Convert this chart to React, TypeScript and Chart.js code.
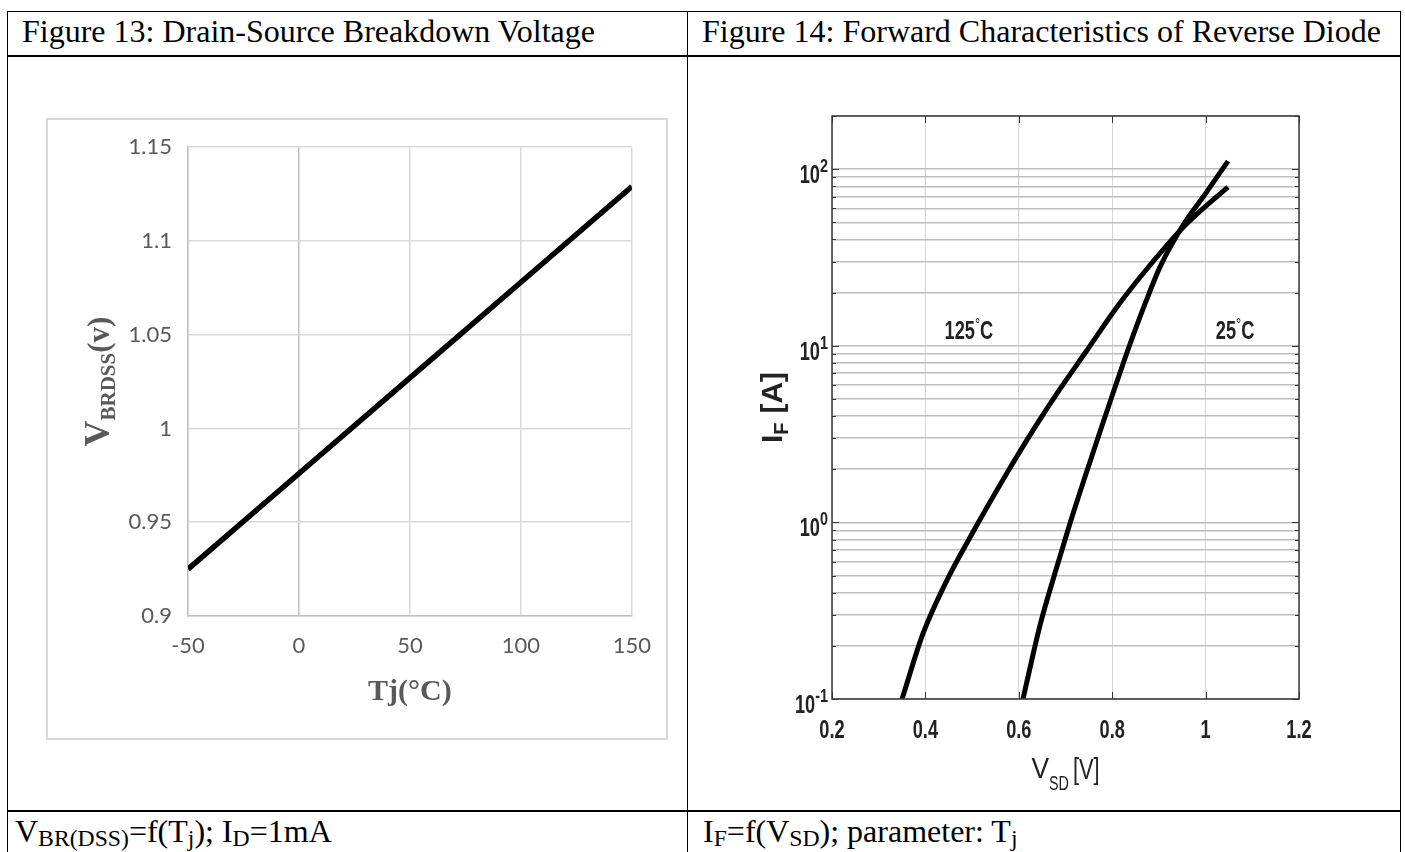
import React, { useEffect, useRef } from "react";
import { Chart, registerables } from "chart.js";

Chart.register(...registerables);

// ---- Figure 13: drain-source breakdown voltage vs junction temperature ----
const tjValues = [-50, 0, 50, 100, 150];
const vbrValues = [0.925, 0.976, 1.027, 1.078, 1.129];
const tjTicks = [-50, 0, 50, 100, 150];
const tjTickLabels = ["-50", "0", "50", "100", "150"];
const vbrTicks = [0.9, 0.95, 1, 1.05, 1.1, 1.15];
const vbrTickLabels = ["0.9", "0.95", "1", "1.05", "1.1", "1.15"];

// ---- Figure 14: reverse diode forward characteristics ----
const vsd25 = [0.609, 0.645, 0.678, 0.71, 0.742, 0.774, 0.806, 0.838, 0.87, 0.902, 0.952, 0.999, 1.048];
const if25 = [0.1, 0.259, 0.522, 0.995, 1.82, 3.27, 5.82, 10.2, 17.2, 27.8, 48.3, 72.2, 111];
const vsd125 = [0.35, 0.395, 0.446, 0.496, 0.575, 0.63, 0.688, 0.746, 0.806, 0.86, 0.924, 0.96, 1.003, 1.048];
const if125 = [0.1, 0.235, 0.47, 0.827, 1.91, 3.31, 5.68, 9.43, 16.0, 24.5, 38.9, 49.2, 62.6, 79.1];
const vsdTicks = [0.2, 0.4, 0.6, 0.8, 1, 1.2];
const vsdTickLabels = ["0.2", "0.4", "0.6", "0.8", "1", "1.2"];
const ifDecades = [0.1, 1, 10, 100];
const ifDecadeExponents = ["-1", "0", "1", "2"];
const ifGridLines = [
  0.1, 0.2, 0.3, 0.4, 0.5, 0.6, 0.7, 0.8, 0.9,
  1, 2, 3, 4, 5, 6, 7, 8, 9,
  10, 20, 30, 40, 50, 60, 70, 80, 90,
  100, 200,
];
const curveLabels = ["125", "25"];
const curveLabelV = [0.493, 1.063];
const curveLabelI = [12.3, 12.3];

const SERIF = '"Liberation Serif", "Times New Roman", serif';
const SANS = '"Liberation Sans", Arial, sans-serif';

// draw text squeezed horizontally by sx, returns the drawn width
function drawText(
  ctx: CanvasRenderingContext2D,
  text: string,
  x: number,
  y: number,
  font: string,
  align: "left" | "center" | "right",
  sx: number
): number {
  ctx.save();
  ctx.font = font;
  const w = ctx.measureText(text).width * sx;
  const left = align === "center" ? x - w / 2 : align === "right" ? x - w : x;
  ctx.translate(left, y);
  ctx.scale(sx, 1);
  ctx.textAlign = "left";
  ctx.textBaseline = "alphabetic";
  ctx.fillText(text, 0, 0);
  ctx.restore();
  return w;
}

type Part = { t: string; font: string; dy: number; sx: number; gap?: number };

function partsWidth(ctx: CanvasRenderingContext2D, parts: Part[]): number {
  let w = 0;
  for (const p of parts) {
    ctx.font = p.font;
    w += ctx.measureText(p.t).width * p.sx + (p.gap || 0);
  }
  return w;
}

function drawParts(ctx: CanvasRenderingContext2D, parts: Part[], x: number, y: number) {
  let cx = x;
  for (const p of parts) {
    cx += drawText(ctx, p.t, cx, y + p.dy, p.font, "left", p.sx) + (p.gap || 0);
  }
}

const fig13Decor = {
  id: "fig13Decor",
  beforeDraw(chart: any) {
    const ctx = chart.ctx as CanvasRenderingContext2D;
    ctx.save();
    ctx.strokeStyle = "#d9d9d9";
    ctx.lineWidth = 2;
    ctx.strokeRect(1, 1, chart.width - 2, chart.height - 2);
    ctx.restore();
  },
  afterDraw(chart: any) {
    const ctx = chart.ctx as CanvasRenderingContext2D;
    const a = chart.chartArea;
    ctx.save();
    ctx.fillStyle = "#595959";
    // x-axis title
    drawText(ctx, "Tj(°C)", (a.left + a.right) / 2, a.bottom + 84, `bold 30px ${SERIF}`, "center", 1);
    // y-axis title, rotated
    const parts: Part[] = [
      { t: "V", font: `bold 36px ${SERIF}`, dy: 0, sx: 1 },
      { t: "BRDSS", font: `bold 21px ${SERIF}`, dy: 6, sx: 1 },
      { t: "(v)", font: `bold 31px ${SERIF}`, dy: 0, sx: 1 },
    ];
    const w = partsWidth(ctx, parts);
    ctx.translate(63, (a.top + a.bottom) / 2);
    ctx.rotate(-Math.PI / 2);
    drawParts(ctx, parts, -w / 2, 0);
    ctx.restore();
  },
};

const fig14Decor = {
  id: "fig14Decor",
  afterDraw(chart: any) {
    const ctx = chart.ctx as CanvasRenderingContext2D;
    const a = chart.chartArea;
    const xs = chart.scales.x;
    const ys = chart.scales.y;
    ctx.save();

    // inward tick marks on all four sides
    ctx.strokeStyle = "#333";
    ctx.lineWidth = 1;
    ctx.beginPath();
    for (const v of ifGridLines) {
      const py = Math.round(ys.getPixelForValue(v)) + 0.5;
      const len = ifDecades.includes(v) ? 7 : 4;
      ctx.moveTo(a.left, py);
      ctx.lineTo(a.left + len, py);
      ctx.moveTo(a.right, py);
      ctx.lineTo(a.right - len, py);
    }
    for (const v of vsdTicks) {
      const px = Math.round(xs.getPixelForValue(v)) + 0.5;
      ctx.moveTo(px, a.bottom);
      ctx.lineTo(px, a.bottom - 7);
      ctx.moveTo(px, a.top);
      ctx.lineTo(px, a.top + 7);
    }
    ctx.stroke();

    // plot box
    ctx.strokeStyle = "#3a3a3a";
    ctx.lineWidth = 1.5;
    ctx.strokeRect(a.left, a.top, a.right - a.left, a.bottom - a.top);

    ctx.fillStyle = "#222";
    // x tick labels
    vsdTicks.forEach((v, i) => {
      drawText(ctx, vsdTickLabels[i], xs.getPixelForValue(v), a.bottom + 39, `bold 26px ${SANS}`, "center", 0.7);
    });
    // y tick labels: 10 with superscript exponent
    ifDecades.forEach((v, i) => {
      const py = ys.getPixelForValue(v);
      const ew = drawText(ctx, ifDecadeExponents[i], a.left - 4, py + 3, `bold 18px ${SANS}`, "right", 0.8);
      drawText(ctx, "10", a.left - 4 - ew, py + 14, `bold 26px ${SANS}`, "right", 0.7);
    });

    // curve temperature labels
    curveLabels.forEach((t, i) => {
      const cx = xs.getPixelForValue(curveLabelV[i]);
      const cy = ys.getPixelForValue(curveLabelI[i]);
      const parts: Part[] = [
        { t, font: `bold 26px ${SANS}`, dy: 0, sx: 0.7 },
        { t: "°", font: `16px ${SANS}`, dy: -9, sx: 0.8 },
        { t: "C", font: `bold 26px ${SANS}`, dy: 0, sx: 0.7 },
      ];
      const w = partsWidth(ctx, parts);
      drawParts(ctx, parts, cx - w / 2, cy + 9);
    });

    // x-axis title
    const xParts: Part[] = [
      { t: "V", font: `30px ${SANS}`, dy: 0, sx: 0.88 },
      { t: "SD", font: `20px ${SANS}`, dy: 12, sx: 0.72, gap: 4 },
      { t: "[V]", font: `29px ${SANS}`, dy: 1, sx: 0.75 },
    ];
    const xw = partsWidth(ctx, xParts);
    drawParts(ctx, xParts, (a.left + a.right) / 2 - xw / 2, a.bottom + 79);

    // y-axis title, rotated
    const yParts: Part[] = [
      { t: "I", font: `bold 30px ${SANS}`, dy: 0, sx: 1 },
      { t: "F", font: `bold 20px ${SANS}`, dy: 6, sx: 1, gap: 9 },
      { t: "[A]", font: `bold 30px ${SANS}`, dy: 0, sx: 1 },
    ];
    const yw = partsWidth(ctx, yParts);
    ctx.translate(82, (a.top + a.bottom) / 2);
    ctx.rotate(-Math.PI / 2);
    drawParts(ctx, yParts, -yw / 2, 0);
    ctx.restore();
  },
};

const lineBlack = {
  borderColor: "#000",
  borderWidth: 5,
  pointRadius: 0,
  fill: false,
  clip: 0,
};

export default function App() {
  const ref13 = useRef<HTMLCanvasElement>(null);
  const ref14 = useRef<HTMLCanvasElement>(null);

  useEffect(() => {
    const ch13 = new Chart(ref13.current as HTMLCanvasElement, {
      type: "line",
      data: {
        datasets: [
          {
            ...lineBlack,
            borderWidth: 5.5,
            data: tjValues.map((t, i) => ({ x: t, y: vbrValues[i] })),
            tension: 0,
          } as any,
        ],
      },
      options: {
        responsive: false,
        animation: false,
        devicePixelRatio: 1,
        layout: { padding: { top: 29, right: 33, left: 0, bottom: 0 } },
        plugins: { legend: { display: false }, tooltip: { enabled: false } },
        scales: {
          x: {
            type: "linear",
            min: -50,
            max: 150,
            afterBuildTicks: (s: any) => {
              s.ticks = tjTicks.map((v) => ({ value: v }));
            },
            ticks: {
              callback: (_v: any, i: number) => tjTickLabels[i],
              color: "#595959",
              font: { family: "Lato", size: 22 },
              padding: 17,
              maxRotation: 0,
            },
            grid: {
              color: (c: any) => (c.tick && c.tick.value === 0 ? "#bfbfbf" : "#d9d9d9"),
              lineWidth: 1.5,
              drawTicks: false,
            },
            border: { color: "#bfbfbf", width: 1.5 },
            afterFit: (s: any) => {
              s.height = 124;
            },
          },
          y: {
            type: "linear",
            min: 0.9,
            max: 1.15,
            afterBuildTicks: (s: any) => {
              s.ticks = vbrTicks.map((v) => ({ value: v }));
            },
            ticks: {
              callback: (_v: any, i: number) => vbrTickLabels[i],
              color: "#595959",
              font: { family: "Lato", size: 22 },
              padding: 16,
            },
            grid: { color: "#d9d9d9", lineWidth: 1.5, drawTicks: false },
            border: { color: "#bfbfbf", width: 1.5 },
            afterFit: (s: any) => {
              s.width = 142;
            },
          },
        },
      } as any,
      plugins: [fig13Decor],
    });

    const ch14 = new Chart(ref14.current as HTMLCanvasElement, {
      type: "line",
      data: {
        datasets: [
          {
            ...lineBlack,
            label: "25°C",
            data: vsd25.map((v, i) => ({ x: v, y: if25[i] })),
            cubicInterpolationMode: "monotone",
          } as any,
          {
            ...lineBlack,
            label: "125°C",
            data: vsd125.map((v, i) => ({ x: v, y: if125[i] })),
            cubicInterpolationMode: "monotone",
          } as any,
        ],
      },
      options: {
        responsive: false,
        animation: false,
        devicePixelRatio: 1,
        layout: { padding: { top: 56, right: 96, left: 0, bottom: 0 } },
        plugins: { legend: { display: false }, tooltip: { enabled: false } },
        scales: {
          x: {
            type: "linear",
            min: 0.2,
            max: 1.2,
            afterBuildTicks: (s: any) => {
              s.ticks = vsdTicks.map((v) => ({ value: v }));
            },
            ticks: { display: false },
            grid: { color: "#d6d6d6", lineWidth: 1, drawTicks: false },
            border: { display: false },
            afterFit: (s: any) => {
              s.height = 106;
            },
          },
          y: {
            type: "logarithmic",
            min: 0.1,
            max: 200,
            afterBuildTicks: (s: any) => {
              s.ticks = ifGridLines.map((v) => ({ value: v }));
            },
            ticks: { display: false },
            grid: { color: "#bdbdbd", lineWidth: 1.5, drawTicks: false },
            border: { display: false },
            afterFit: (s: any) => {
              s.width = 132;
            },
          },
        },
      } as any,
      plugins: [fig14Decor],
    });

    return () => {
      ch13.destroy();
      ch14.destroy();
    };
  }, []);

  const line = (l: number, t: number, w: number, h: number): React.CSSProperties => ({
    position: "absolute",
    left: l,
    top: t,
    width: w,
    height: h,
    background: "#000",
  });
  const cellText: React.CSSProperties = {
    position: "absolute",
    fontFamily: SERIF,
    fontSize: 32,
    lineHeight: "32px",
    color: "#000",
    whiteSpace: "nowrap",
  };
  const sub: React.CSSProperties = { fontSize: "0.74em", position: "relative", top: 4 };

  return (
    <div
      style={{
        position: "absolute",
        left: 0,
        top: 0,
        width: 1405,
        height: 852,
        overflow: "hidden",
        background: "#fff",
      }}
    >
      {/* table rules */}
      <div style={line(7, 11, 1394, 1)} />
      <div style={line(7, 11, 1, 841)} />
      <div style={line(1400, 11, 1, 841)} />
      <div style={line(687, 11, 1, 841)} />
      <div style={line(7, 55, 1394, 2)} />
      <div style={line(7, 810, 1394, 2)} />

      <div style={{ ...cellText, left: 22, top: 15 }}>Figure 13: Drain-Source Breakdown Voltage</div>
      <div style={{ ...cellText, left: 702, top: 15 }}>Figure 14: Forward Characteristics of Reverse Diode</div>

      <canvas
        ref={ref13}
        width={622}
        height={622}
        style={{ position: "absolute", left: 46, top: 118, width: 622, height: 622 }}
      />
      <canvas
        ref={ref14}
        width={695}
        height={745}
        style={{ position: "absolute", left: 700, top: 60, width: 695, height: 745 }}
      />

      <div style={{ ...cellText, left: 15, top: 815 }}>
        V<span style={sub}>BR(DSS)</span>=f(T<span style={sub}>j</span>); I<span style={sub}>D</span>=1mA
      </div>
      <div style={{ ...cellText, left: 703, top: 815 }}>
        I<span style={sub}>F</span>=f(V<span style={sub}>SD</span>); parameter: T<span style={sub}>j</span>
      </div>
    </div>
  );
}
